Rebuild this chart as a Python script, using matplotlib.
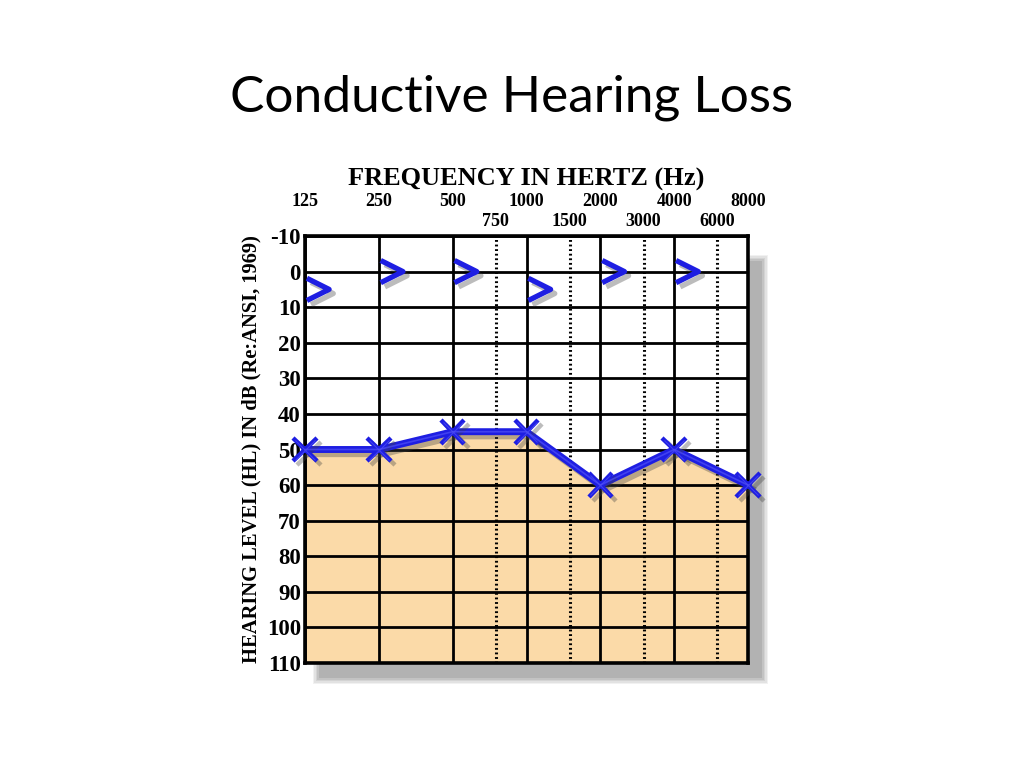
import matplotlib
matplotlib.use("Agg")
import matplotlib.pyplot as plt
import matplotlib.patheffects as pe
from matplotlib.path import Path
from matplotlib.patches import Rectangle
from matplotlib.ticker import FixedLocator, FixedFormatter, NullFormatter
import matplotlib.transforms as mtransforms

# ---- data ----
title = "Conductive Hearing Loss"
x_title = "FREQUENCY IN HERTZ (Hz)"
y_title = "HEARING LEVEL (HL) IN dB (Re:ANSI, 1969)"
octave_freqs = [125, 250, 500, 1000, 2000, 4000, 8000]
octave_labels = ["125", "250", "500", "1000", "2000", "4000", "8000"]
mid_freqs = [750, 1500, 3000, 6000]
mid_labels = ["750", "1500", "3000", "6000"]
db_ticks = [-10, 0, 10, 20, 30, 40, 50, 60, 70, 80, 90, 100, 110]
db_labels = ["-10", "0", "10", "20", "30", "40", "50", "60", "70", "80", "90", "100", "110"]

air_freqs = [125, 250, 500, 1000, 2000, 4000, 8000]
air_db = [50, 50, 45, 45, 60, 50, 60]
bone_freqs = [125, 250, 500, 1000, 2000, 4000]
bone_db = [5, 0, 0, 5, 0, 0]

blue = "#1E1EE2"
fill_col = "#FBDAA8"

fig = plt.figure(figsize=(10.24, 7.68), dpi=100)
fig.patch.set_facecolor("white")

L, B, W, H = 305/1024, 1-663/768, 443/1024, 427/768

# drop shadow behind chart (stacked translucent rectangles)
for i, a in enumerate([0.08, 0.09, 0.10, 0.12, 0.14]):
    g = 6 - i * 1.4
    r = Rectangle(((305 + 14 - g)/1024, 1 - (663 + 15 + g)/768),
                  (443 + 2*g)/1024, (427 + 2*g - 10)/768,
                  transform=fig.transFigure, facecolor="#505050",
                  alpha=a, edgecolor="none", zorder=0)
    fig.add_artist(r)

ax = fig.add_axes([L, B, W, H], zorder=2)
ax.set_facecolor("white")
ax.set_xscale("log", base=2)
ax.set_xlim(125, 8000)
ax.set_ylim(110, -10)

ax.fill_between(air_freqs, air_db, 110, color=fill_col, lw=0, zorder=1)

ax.xaxis.set_major_locator(FixedLocator(octave_freqs))
ax.xaxis.set_major_formatter(FixedFormatter(octave_labels))
ax.xaxis.set_minor_locator(FixedLocator(mid_freqs))
ax.xaxis.set_minor_formatter(FixedFormatter(mid_labels))
ax.yaxis.set_major_locator(FixedLocator(db_ticks))
ax.yaxis.set_major_formatter(FixedFormatter(db_labels))
ax.yaxis.set_minor_formatter(NullFormatter())

ax.xaxis.tick_top()
ax.xaxis.set_label_position("top")
serif = "Liberation Serif"
ax.tick_params(axis="x", which="major", length=0, pad=19, labelsize=13,
               labelfontfamily=serif)
ax.tick_params(axis="x", which="minor", length=0, pad=4, labelsize=13,
               labelfontfamily=serif)
ax.tick_params(axis="y", which="major", length=0, pad=3, labelsize=16.5,
               labelfontfamily=serif)
for lab in ax.get_xticklabels(which="both") + ax.get_yticklabels():
    lab.set_fontweight("bold")

ax.grid(which="major", axis="both", color="black", lw=2.0, zorder=1.5)
ax.grid(which="minor", axis="x", color="black", lw=2.2, ls=(0, (0.6, 0.9)), zorder=1.5)
ax.set_axisbelow(False)
for s in ax.spines.values():
    s.set_linewidth(2.6)
    s.set_zorder(4)

ax.set_xlabel(x_title, fontfamily=serif, fontweight="bold", fontsize=19, labelpad=5)
ax.set_ylabel(y_title, fontfamily=serif, fontweight="bold", fontsize=14.8)
ax.yaxis.set_label_coords(-0.098, 0.5)

shadow = [pe.SimpleLineShadow(offset=(3, -3), shadow_color="#404040", alpha=0.35), pe.Normal()]

ax.plot(air_freqs, air_db, color=blue, lw=5, marker="x", ms=17, mew=3.2,
        zorder=5, clip_on=False, path_effects=shadow)
ax.plot(air_freqs, air_db, color="#5050F5", lw=1.2, marker="x", ms=15, mew=0.8,
        alpha=0.7, zorder=6, clip_on=False)

chev = Path([(-1, 1), (1, 0), (-1, -1)], [Path.MOVETO, Path.LINETO, Path.LINETO])
off = mtransforms.ScaledTranslation(13/100, 0, fig.dpi_scale_trans)
ax.plot(bone_freqs, bone_db, ls="none", marker=chev, ms=16, mew=3.8,
        mfc="none", mec=blue, zorder=5, clip_on=False,
        transform=ax.transData + off, path_effects=shadow)

fig.text(0.5, 1-98/768, title, ha="center", va="center", fontsize=37,
         fontfamily="Lato", color="black")

fig.savefig("out.png", dpi=100)
